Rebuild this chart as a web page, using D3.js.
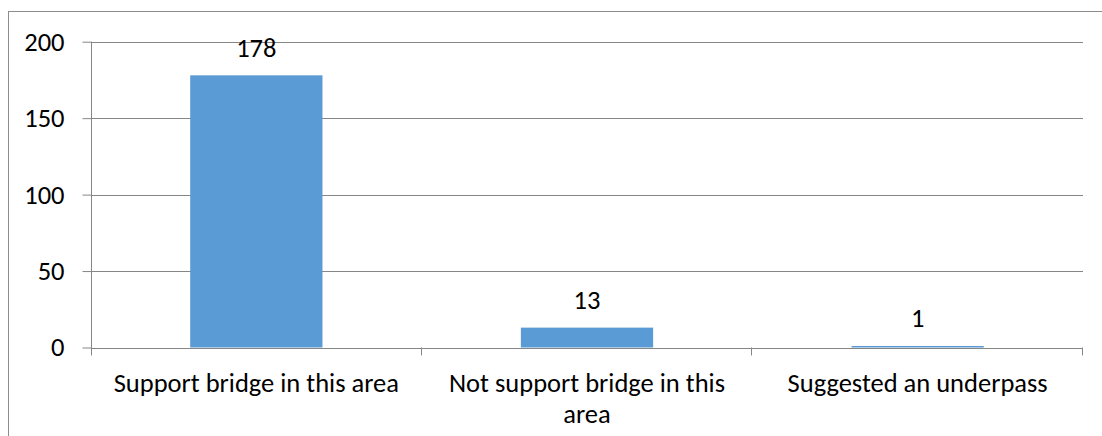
<!DOCTYPE html>
<html><head><meta charset="utf-8">
<script src="https://cdn.jsdelivr.net/npm/d3@7"></script>
<style>
html,body{margin:0;padding:0;background:#fff;}
text{font-family:Carlito,Calibri,Lato,sans-serif;fill:#000;}
</style></head>
<body><svg id="c" width="1102" height="436"></svg>
<script>
const categories = ["Support bridge in this area", "Not support bridge in this area", "Suggested an underpass"];
const values = [178, 13, 1];
const yTicks = [0, 50, 100, 150, 200];

(function () {
const svg = d3.select("#c");
const pL = 91, pR = 1083, pT = 41.7, pB = 347.5;
const fs = 26.5;

// outer chart border
svg.append("rect").attr("x", 8.5).attr("y", 11.5).attr("width", 1200).attr("height", 600)
  .attr("fill", "none").attr("stroke", "#8c8c8c").attr("stroke-width", 1);

const x = d3.scaleBand().domain(categories).range([pL, pR]).paddingInner(0.6).paddingOuter(0.3);
const xb = d3.scaleBand().domain(categories).range([pL, pR]);
const y = d3.scaleLinear().domain([0, 200]).range([pB, pT]);

// gridlines
svg.append("g").selectAll("line").data(yTicks.filter(d => d > 0)).join("line")
  .attr("x1", pL).attr("x2", pR).attr("y1", d => Math.round(y(d)) + 0.5).attr("y2", d => Math.round(y(d)) + 0.5)
  .attr("stroke", "#868686").attr("stroke-width", 1);

// y axis
const ya = svg.append("g").attr("transform", `translate(${pL + 0.5},0)`)
  .call(d3.axisLeft(y).tickValues(yTicks).tickSize(9).tickSizeOuter(0).tickPadding(18));
ya.select(".domain").remove();
ya.selectAll(".tick line").attr("stroke", "#868686");
ya.selectAll(".tick text").attr("font-size", fs).attr("font-family", "Carlito,Calibri,Lato,sans-serif").attr("fill", "#000");
svg.append("line").attr("x1", pL + 0.5).attr("x2", pL + 0.5).attr("y1", pT).attr("y2", pB + 8)
  .attr("stroke", "#868686");

// bars
svg.append("g").selectAll("rect").data(values).join("rect")
  .attr("x", (d, i) => x(categories[i])).attr("width", x.bandwidth())
  .attr("y", d => y(d)).attr("height", d => pB - y(d))
  .attr("fill", "#5B9BD5");

// x axis baseline and ticks
svg.append("line").attr("x1", pL).attr("x2", pR).attr("y1", Math.round(pB) + 0.5).attr("y2", Math.round(pB) + 0.5)
  .attr("stroke", "#868686");
const bounds = categories.map(c => xb(c) + xb.bandwidth());
svg.append("g").selectAll("line").data(bounds).join("line")
  .attr("x1", d => Math.round(d) - 0.5).attr("x2", d => Math.round(d) - 0.5)
  .attr("y1", pB).attr("y2", pB + 8).attr("stroke", "#868686");

// value labels
svg.append("g").selectAll("text").data(values).join("text")
  .attr("x", (d, i) => x(categories[i]) + x.bandwidth() / 2)
  .attr("y", d => y(d) - 18.5)
  .attr("text-anchor", "middle").attr("font-size", fs).text(d => d);

// category labels with wrapping
const maxW = 300;
categories.forEach(c => {
  const cx = xb(c) + xb.bandwidth() / 2;
  const t = svg.append("text").attr("text-anchor", "middle").attr("font-size", fs)
    .attr("x", cx).attr("y", 392);
  const words = c.split(" ");
  let line = [];
  let ts = t.append("tspan").attr("x", cx).attr("dy", 0);
  words.forEach(w => {
    line.push(w);
    ts.text(line.join(" "));
    if (ts.node().getComputedTextLength() > maxW && line.length > 1) {
      line.pop(); ts.text(line.join(" "));
      line = [w];
      ts = t.append("tspan").attr("x", cx).attr("dy", 31).text(w);
    }
  });
});
})();
</script></body></html>
